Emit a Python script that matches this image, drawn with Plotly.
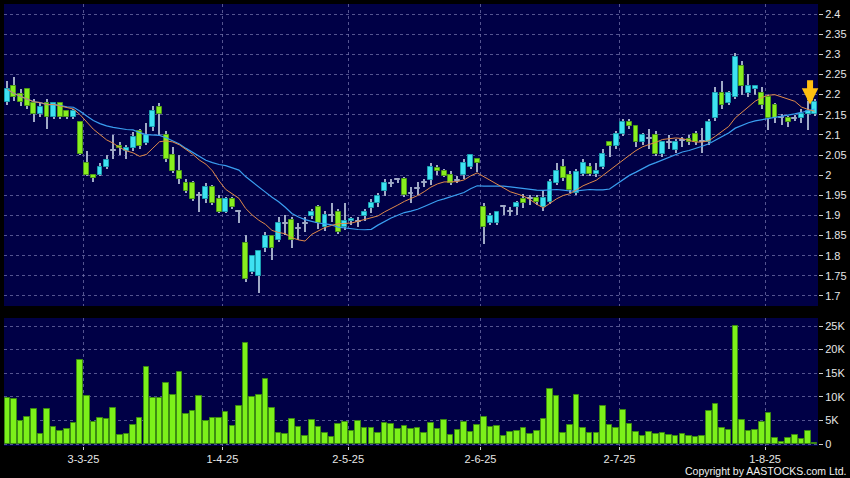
import pandas as pd
import plotly.graph_objects as go

# ---------------- data ----------------
holidays = ["2025-04-04", "2025-04-18", "2025-04-21", "2025-05-01", "2025-05-05", "2025-07-01"]
dates = [d.strftime("%Y-%m-%d") for d in pd.bdate_range("2025-02-13", "2025-08-12")
         if d.strftime("%Y-%m-%d") not in holidays]

tick_dates = ["2025-03-03", "2025-04-01", "2025-05-02", "2025-06-02", "2025-07-02", "2025-08-01"]
tick_labels = ["3-3-25", "1-4-25", "2-5-25", "2-6-25", "2-7-25", "1-8-25"]

opens = [2.181, 2.221, 2.201, 2.213, 2.178, 2.152, 2.178, 2.145, 2.178, 2.160,
         2.145, 2.131, 2.030, 2.000, 2.000, 2.019, 2.062, 2.073, 2.060, 2.067,
         2.110, 2.081, 2.120, 2.170, 2.099, 2.051, 2.011, 1.980, 1.980, 1.950,
         1.942, 1.970, 1.940, 1.909, 1.940, 1.909, 1.831, 1.760, 1.749, 1.820,
         1.848, 1.840, 1.880, 1.888, 1.867, 1.880, 1.898, 1.920, 1.870, 1.900,
         1.908, 1.870, 1.885, 1.885, 1.898, 1.919, 1.930, 1.960, 1.980, 1.990,
         1.991, 1.954, 1.968, 1.981, 1.989, 2.018, 2.010, 2.000, 1.987, 2.000,
         2.020, 2.039, 1.921, 1.880, 1.880, 1.921, 1.910, 1.921, 1.940, 1.942,
         1.943, 1.920, 1.933, 1.980, 2.021, 2.000, 1.955, 2.002, 2.021, 2.002,
         2.021, 2.082, 2.072, 2.102, 2.131, 2.121, 2.082, 2.090, 2.100, 2.053,
         2.080, 2.062, 2.085, 2.091, 2.103, 2.083, 2.083, 2.143, 2.203, 2.180,
         2.193, 2.271, 2.203, 2.214, 2.203, 2.193, 2.173, 2.143, 2.143, 2.140,
         2.143, 2.152, 2.152]
highs = [2.234, 2.244, 2.213, 2.217, 2.189, 2.178, 2.190, 2.182, 2.180, 2.163,
         2.165, 2.133, 2.061, 2.002, 2.031, 2.050, 2.100, 2.083, 2.075, 2.107,
         2.115, 2.130, 2.171, 2.180, 2.110, 2.071, 2.051, 1.990, 1.985, 1.958,
         1.980, 1.975, 1.950, 1.945, 1.945, 1.910, 1.852, 1.800, 1.811, 1.860,
         1.850, 1.896, 1.900, 1.895, 1.880, 1.896, 1.916, 1.927, 1.912, 1.930,
         1.915, 1.930, 1.895, 1.897, 1.915, 1.940, 1.955, 1.990, 1.990, 1.993,
         1.995, 1.970, 1.983, 1.990, 2.030, 2.025, 2.015, 2.011, 1.999, 2.040,
         2.050, 2.042, 1.932, 1.905, 1.909, 1.925, 1.921, 1.935, 1.952, 1.950,
         1.950, 1.960, 1.990, 2.030, 2.040, 2.010, 2.015, 2.040, 2.030, 2.030,
         2.065, 2.085, 2.110, 2.140, 2.140, 2.125, 2.105, 2.115, 2.110, 2.085,
         2.100, 2.090, 2.095, 2.100, 2.110, 2.116, 2.140, 2.218, 2.234, 2.210,
         2.304, 2.284, 2.250, 2.225, 2.218, 2.200, 2.180, 2.152, 2.148, 2.150,
         2.165, 2.185, 2.190]
lows = [2.175, 2.185, 2.172, 2.164, 2.131, 2.145, 2.115, 2.140, 2.140, 2.140,
        2.140, 2.050, 1.998, 1.982, 1.998, 2.015, 2.040, 2.050, 2.040, 2.060,
        2.065, 2.075, 2.110, 2.100, 2.032, 2.005, 1.979, 1.955, 1.935, 1.909,
        1.930, 1.925, 1.905, 1.905, 1.915, 1.880, 1.735, 1.755, 1.708, 1.810,
        1.790, 1.835, 1.851, 1.818, 1.840, 1.859, 1.892, 1.867, 1.862, 1.884,
        1.855, 1.865, 1.875, 1.872, 1.885, 1.905, 1.920, 1.949, 1.970, 1.980,
        1.945, 1.930, 1.950, 1.970, 1.975, 2.000, 1.995, 1.975, 1.980, 1.990,
        2.015, 2.007, 1.829, 1.875, 1.875, 1.900, 1.899, 1.900, 1.918, 1.925,
        1.925, 1.910, 1.928, 1.975, 1.985, 1.955, 1.950, 1.998, 1.998, 1.995,
        2.015, 2.045, 2.065, 2.098, 2.115, 2.070, 2.075, 2.065, 2.048, 2.045,
        2.065, 2.055, 2.070, 2.075, 2.075, 2.054, 2.075, 2.135, 2.165, 2.175,
        2.190, 2.200, 2.195, 2.200, 2.165, 2.111, 2.130, 2.124, 2.120, 2.135,
        2.130, 2.111, 2.148]
closes = [2.213, 2.193, 2.181, 2.172, 2.152, 2.170, 2.145, 2.178, 2.145, 2.145,
          2.160, 2.053, 2.001, 1.992, 2.019, 2.038, 2.062, 2.067, 2.067, 2.095,
          2.073, 2.099, 2.159, 2.151, 2.040, 2.011, 1.991, 1.961, 1.942, 1.950,
          1.970, 1.932, 1.909, 1.940, 1.921, 1.909, 1.741, 1.798, 1.811, 1.848,
          1.818, 1.880, 1.880, 1.840, 1.867, 1.880, 1.908, 1.880, 1.900, 1.900,
          1.859, 1.886, 1.890, 1.885, 1.908, 1.930, 1.949, 1.980, 1.980, 1.990,
          1.950, 1.954, 1.968, 1.981, 2.020, 2.010, 1.999, 1.981, 1.987, 2.030,
          2.050, 2.030, 1.870, 1.899, 1.909, 1.921, 1.910, 1.930, 1.932, 1.942,
          1.933, 1.943, 1.982, 2.010, 1.992, 1.963, 2.008, 2.031, 2.002, 2.010,
          2.053, 2.072, 2.102, 2.131, 2.121, 2.082, 2.100, 2.090, 2.053, 2.082,
          2.080, 2.083, 2.085, 2.083, 2.083, 2.083, 2.132, 2.203, 2.173, 2.203,
          2.293, 2.222, 2.222, 2.222, 2.173, 2.143, 2.143, 2.143, 2.132, 2.140,
          2.152, 2.160, 2.181]
volumes = [9700, 9500, 4800, 5800, 7400, 2200, 7500, 3700, 2800, 3200,
           4500, 17900, 10200, 4600, 5600, 5300, 7700, 1900, 2100, 4100,
           5600, 16300, 9700, 9700, 12900, 10300, 15300, 6300, 6900, 10200,
           4900, 5600, 5500, 6700, 3800, 8000, 21500, 10000, 10300, 13800,
           7700, 2400, 2100, 5200, 3600, 1800, 5000, 3700, 2400, 1500,
           4300, 4700, 2800, 4900, 3400, 3400, 2400, 4400, 4200, 3200,
           3900, 3100, 3300, 2400, 4400, 3200, 5100, 1900, 3000, 4700,
           2600, 4000, 5700, 3700, 3800, 1800, 2600, 2800, 3500, 2100,
           2800, 5300, 11700, 10200, 2400, 4000, 10400, 3400, 2300, 2300,
           8100, 4100, 3400, 7300, 4300, 2500, 1600, 2500, 2200, 2400,
           1900, 1600, 2100, 1800, 1400, 1600, 7100, 8500, 3300, 2900,
           25100, 5000, 2700, 3000, 4600, 6500, 1300, 400, 1300, 1900,
           1100, 2800, 200]

price_ticks = [1.70, 1.75, 1.80, 1.85, 1.90, 1.95, 2.00, 2.05, 2.10, 2.15,
               2.20, 2.25, 2.30, 2.35, 2.40]
vol_ticks = [0, 5000, 10000, 15000, 20000, 25000]
vol_tick_labels = ["0", "5K", "10K", "15K", "20K", "25K"]

# ---------------- derived ----------------
n = len(dates)
xs = list(range(n))
ma10 = pd.Series(closes).rolling(10, min_periods=1).mean().tolist()
ma20 = pd.Series(closes).rolling(20, min_periods=1).mean().tolist()

UP, UP_EDGE = "#3ee2f2", "#1b9fb0"
DN, DN_EDGE = "#88ee1e", "#4f9c18"
WICK = "#a0aac6"
DOJI_H = 0.0025  # drawn thickness of a flat (open == close) body

body_base, body_h, body_col, body_edge = [], [], [], []
for o, c in zip(opens, closes):
    h = abs(c - o)
    if h > 0.0015:
        body_base.append(min(o, c))
        body_h.append(h)
        body_col.append(UP if c >= o else DN)
        body_edge.append(UP_EDGE if c >= o else DN_EDGE)
    else:
        body_base.append(o - DOJI_H / 2)
        body_h.append(DOJI_H)
        body_col.append(WICK)
        body_edge.append(WICK)
wick_h = [h - l for h, l in zip(highs, lows)]

tick_pos = [dates.index(d) - 0.5 for d in tick_dates]

FONT = "Liberation Sans, Arial, sans-serif"
GRID = "rgba(120,120,175,0.7)"

fig = go.Figure()

# wicks
fig.add_trace(go.Bar(
    x=xs, y=wick_h, base=lows, width=0.16,
    marker=dict(color=WICK, line=dict(width=0)),
    hoverinfo="skip", showlegend=False, xaxis="x", yaxis="y"))

# candle bodies
fig.add_trace(go.Bar(
    x=xs, y=body_h, base=body_base, width=0.74,
    marker=dict(color=body_col, line=dict(color=body_edge, width=1)),
    hoverinfo="skip", showlegend=False, xaxis="x", yaxis="y"))

# moving averages
fig.add_trace(go.Scatter(x=xs, y=ma20, mode="lines",
                         line=dict(color="#3a9ef0", width=1.2),
                         hoverinfo="skip", showlegend=False, xaxis="x", yaxis="y"))
fig.add_trace(go.Scatter(x=xs, y=ma10, mode="lines",
                         line=dict(color="#e08a4a", width=1),
                         hoverinfo="skip", showlegend=False, xaxis="x", yaxis="y"))

# volume
fig.add_trace(go.Bar(
    x=xs, y=volumes, width=0.84,
    marker=dict(color="#7cf01a", line=dict(color="#3d8c12", width=1)),
    hoverinfo="skip", showlegend=False, xaxis="x2", yaxis="y2"))

axis_common = dict(showline=False, zeroline=False, gridcolor=GRID, gridwidth=1,
                   griddash="3px,3px")

fig.update_layout(
    width=850, height=478,
    margin=dict(l=4, r=32, t=4, b=32),
    paper_bgcolor="#000000", plot_bgcolor="#000046",
    font=dict(family=FONT, size=11, color="#e6e6e6"),
    barmode="overlay", bargap=0,
    showlegend=False,
    xaxis=dict(domain=[0, 1], anchor="y", range=[-0.5, n - 0.5],
               tickvals=tick_pos, ticktext=tick_labels, showticklabels=False,
               ticks="", **axis_common),
    xaxis2=dict(domain=[0, 1], anchor="y2", matches="x", range=[-0.5, n - 0.5],
                tickvals=tick_pos, ticktext=tick_labels, showticklabels=True,
                ticks="outside", ticklen=3, tickcolor="#cccccc",
                tickfont=dict(family=FONT, size=11, color="#e6e6e6"),
                **axis_common),
    yaxis=dict(domain=[0.3167, 1], anchor="x", side="right", range=[1.675, 2.425],
               tickvals=price_ticks,
               ticktext=[("%.2f" % v).rstrip("0").rstrip(".") for v in price_ticks],
               ticks="outside", ticklen=4, tickcolor="#cccccc",
               tickfont=dict(family=FONT, size=11, color="#e6e6e6"),
               **axis_common),
    yaxis2=dict(domain=[0, 0.2896], anchor="x2", side="right", range=[-420, 26700],
                tickvals=vol_ticks, ticktext=vol_tick_labels,
                ticks="outside", ticklen=4, tickcolor="#cccccc",
                tickfont=dict(family=FONT, size=11, color="#e6e6e6"),
                **axis_common),
    annotations=[
        dict(x=n - 2, y=highs[n - 2] - 0.010, xref="x", yref="y", text="",
             showarrow=True, arrowhead=2, arrowsize=0.55, arrowwidth=6,
             arrowcolor="#ffbf10", ax=0, ay=-26, xshift=2),
        dict(x=1.037, y=-0.0566, xref="paper", yref="paper",
             text="Copyright by AASTOCKS.com Ltd.", showarrow=False,
             xanchor="right", yanchor="middle",
             font=dict(family=FONT, size=10.5, color="#f0f0f0")),
    ],
)

fig.write_html("out.html",
               config={"displayModeBar": False},
               post_script="document.body.style.margin='0px';"
                           "document.body.style.background='#000000';")
